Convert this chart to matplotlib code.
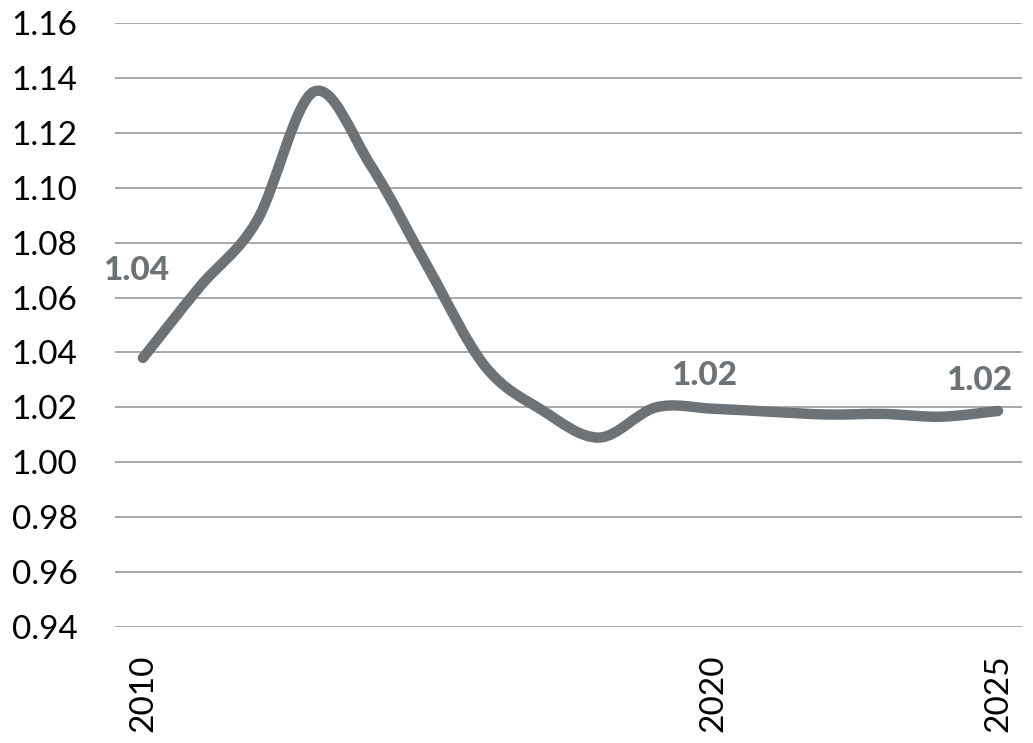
import matplotlib
matplotlib.use('Agg')
import matplotlib.pyplot as plt
from matplotlib.path import Path
from matplotlib.patches import PathPatch
import numpy as np

years = [2010, 2011, 2012, 2013, 2014, 2015, 2016, 2017,
         2018, 2019, 2020, 2021, 2022, 2023, 2024, 2025]
values = [1.038, 1.064, 1.088, 1.135, 1.108, 1.071, 1.035, 1.019,
          1.009, 1.020, 1.0195, 1.0184, 1.0174, 1.0176, 1.0166, 1.0187]
y_ticks = [0.94, 0.96, 0.98, 1.00, 1.02, 1.04, 1.06, 1.08, 1.10, 1.12, 1.14, 1.16]
x_ticks = [2010, 2020, 2025]
labels = [(2010, '1.04'), (2020, '1.02'), (2025, '1.02')]

LINE = '#6d7276'
GRID = '#9a9a9a'

plt.rcParams['font.family'] = ['Lato', 'DejaVu Sans']


def smooth_path(xs, ys):
    # catmull-rom through the points, as cubic bezier segments
    p = np.column_stack([xs, ys]).astype(float)
    ext = np.vstack([p[0], p, p[-1]])
    verts = [p[0]]
    codes = [Path.MOVETO]
    for i in range(len(p) - 1):
        p0, p1, p2, p3 = ext[i], ext[i + 1], ext[i + 2], ext[i + 3]
        verts += [p1 + (p2 - p0) / 6, p2 - (p3 - p1) / 6, p2]
        codes += [Path.CURVE4] * 3
    return Path(verts, codes)


fig = plt.figure(figsize=(10.33, 7.43), dpi=100)
ax = fig.add_axes([115 / 1033, 1 - 627 / 743, (1022 - 115) / 1033, (627 - 23) / 743])

ax.add_patch(PathPatch(smooth_path(years, values), fill=False, edgecolor=LINE,
                       linewidth=7.5, capstyle='round', joinstyle='round', zorder=3))

offsets = {2010: (-0.12, 0.032), 2020: (-0.16, 0.012), 2025: (-0.33, 0.011)}
for yr, txt in labels:
    v = values[years.index(yr)]
    dx, dy = offsets[yr]
    ax.text(yr + dx, v + dy, txt, ha='center', va='center', fontsize=24,
            fontweight='black', color=LINE, zorder=4)

ax.set_xlim(2009.51, 2025.42)
ax.set_ylim(0.94, 1.16)
ax.set_yticks(y_ticks)
ax.set_yticklabels([f'{t:.2f}' for t in y_ticks])
ax.set_xticks(x_ticks)
ax.set_xticklabels([str(t) for t in x_ticks], rotation=90, va='top')
ax.tick_params(axis='y', length=0, pad=27, labelsize=24)
ax.tick_params(axis='x', length=0, pad=20, labelsize=24)
ax.yaxis.grid(True, color=GRID, linewidth=1.2)
ax.set_axisbelow(True)
for s in ax.spines.values():
    s.set_visible(False)

fig.savefig('out.png', dpi=100)
